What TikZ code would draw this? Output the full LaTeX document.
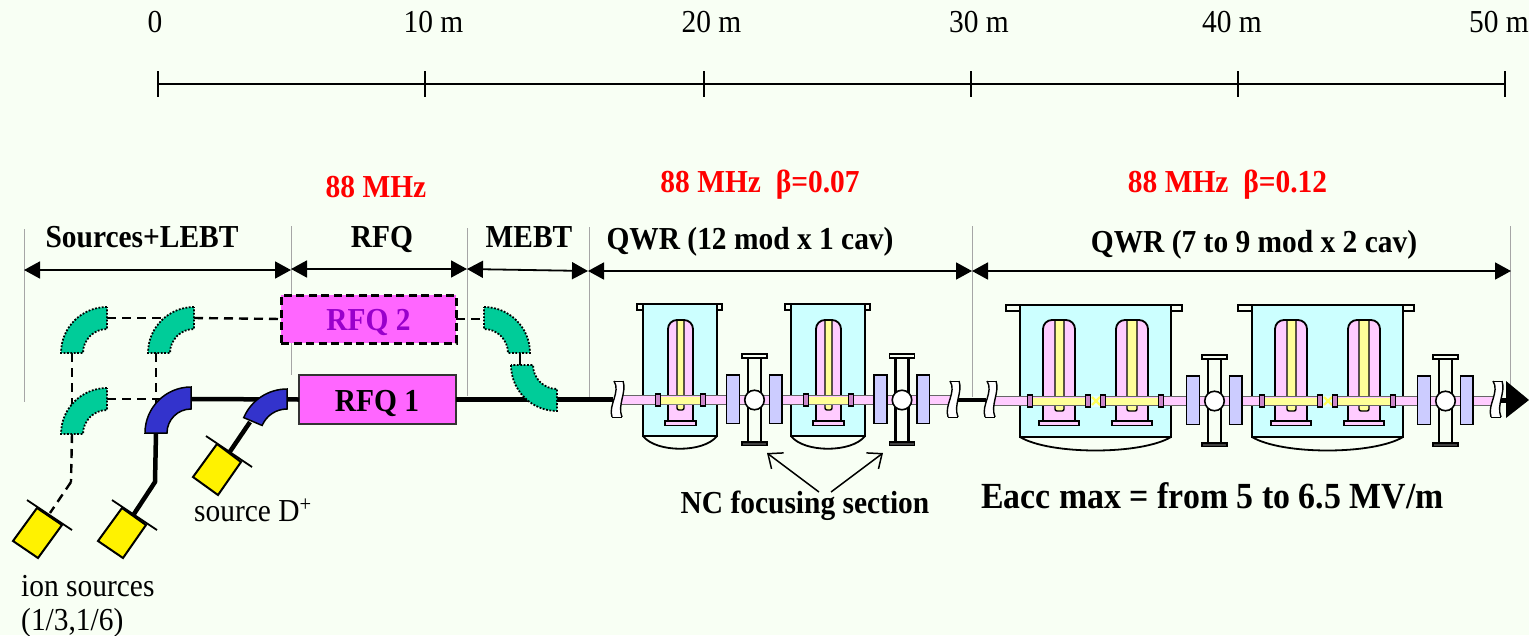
\documentclass[tikz,border=0pt]{standalone}
\usepackage{fontspec}
\setmainfont[FakeStretch=0.92]{Liberation Serif}
\usetikzlibrary{arrows.meta,calc}
\definecolor{bgc}{HTML}{F8FFF4}
\definecolor{rfqc}{HTML}{FF66FF}
\definecolor{rfqtxt}{HTML}{9900CC}
\definecolor{greenb}{HTML}{00CC99}
\definecolor{blueb}{HTML}{3333CC}
\definecolor{tankc}{HTML}{CCFFFF}
\definecolor{pinkc}{HTML}{FFCCFF}
\definecolor{yelc}{HTML}{FFFF99}
\definecolor{quadc}{HTML}{CCCCFF}
\definecolor{collarc}{HTML}{CC88CC}
\tikzset{
  reg/.style={anchor=base,inner sep=0pt,font=\fontsize{32}{32}\selectfont},
  lab/.style={anchor=base,inner sep=0pt,font=\bfseries\fontsize{32}{32}\selectfont},
  redlab/.style={lab,text=red},
  guide/.style={draw=black!35,line width=0.5pt},
  scaleline/.style={draw=black,line width=2pt},
  dimarrow/.style={draw=black,line width=1.8pt,{Triangle[length=16pt,width=17pt]}-{Triangle[length=16pt,width=17pt]}},
  beam/.style={draw=black,line width=4.5pt},
  dashline/.style={draw=black,line width=2.4pt,dash pattern=on 9pt off 6pt},
  gbend/.style={fill=greenb,draw=black,line width=1.8pt,dash pattern=on 1.8pt off 1.6pt},
  bbend/.style={fill=blueb,draw=black,line width=1.5pt},
  srcbox/.style={fill=yellow,draw=black,line width=2pt},
  srcbar/.style={draw=black,line width=1.8pt},
  tank/.style={fill=tankc,draw=black,line width=2pt},
  pipe/.style={fill=pinkc,draw=black!60,line width=0.8pt},
  ncarrow/.style={draw=black,line width=1.5pt,-{Straight Barb[length=12pt,width=20pt,line width=1.5pt]}}
}
% annular bend: name, centre, a1, a2, R, r, style
\newcommand{\Bend}[7]{%
  \coordinate (#1-c) at (#2);
  \draw[#7] ($(#1-c)+(#3:#5)$) arc[start angle=#3,end angle=#4,radius=#5]
     -- ($(#1-c)+(#4:#6)$) arc[start angle=#4,end angle=#3,radius=#6] -- cycle;
}
\newcommand{\Cav}[6]{% left right yleft yright baseext ybottom
  \draw[pipe,draw=black,line width=1.8pt,rounded corners=9pt] (#1,422) -- (#1,320) -- (#2,320) -- (#2,422);
  \fill[pinkc] (#1+1,330) rectangle (#2-1,421);
  \draw[draw=black,line width=1.4pt,fill=yelc,rounded corners=2pt] (#3,321) -- (#3,#6) -- (#4,#6) -- (#4,321);
  \draw[fill=pinkc,draw=black,line width=1.5pt] (#1-#5,421) rectangle (#2+#5,425.5);
}
\newcommand{\Collar}[2]{\draw[fill=collarc,draw=black,line width=1.2pt] (#1-2.5,#2-6) rectangle (#1+2.5,#2+6);}
\newcommand{\TankOne}[1]{\begin{scope}[shift={(#1,0)}]
  \draw[draw=black,line width=1.8pt] (643,436) .. controls (656,453) and (704,453) .. (717,436);
  \draw[tank] (643,304) rectangle (717,436);
  \draw[fill=bgc,draw=black,line width=1.8pt] (637,304) rectangle (643,310);
  \draw[fill=bgc,draw=black,line width=1.8pt] (717,304) rectangle (722,310);
  \draw[draw=black,line width=2.6pt] (637,304) -- (722,304);
  \Cav{668}{693}{677}{684}{3}{410}
\end{scope}}
\newcommand{\BeamOne}[1]{\begin{scope}[shift={(#1,0)}]
  \fill[yelc] (660,396.5) rectangle (701,403.5);
  \draw[draw=pinkc,line width=1.2pt] (660,396.8) -- (701,396.8);
  \draw[draw=black!50,line width=0.6pt] (660,404.4) -- (701,404.4);
  \Collar{658}{400}\Collar{703}{400}
\end{scope}}
\newcommand{\TankTwo}[1]{\begin{scope}[shift={(#1,0)}]
  \draw[draw=black,line width=1.8pt] (1020,437) .. controls (1050,455) and (1141,455) .. (1171,437);
  \draw[tank] (1020,305) rectangle (1171,437);
  \draw[fill=bgc,draw=black,line width=1.8pt] (1006,305) rectangle (1020,311);
  \draw[fill=bgc,draw=black,line width=1.8pt] (1171,305) rectangle (1182,311);
  \draw[draw=black,line width=2.6pt] (1006,305) -- (1182,305);
  \Cav{1043}{1075}{1055}{1064}{4}{411}
  \Cav{1116}{1148}{1127}{1137}{4}{411}
\end{scope}}
\newcommand{\BeamTwo}[1]{\begin{scope}[shift={(#1,0)}]
  \fill[yelc] (1032,397.5) rectangle (1087,404.5);
  \fill[yelc] (1104,397.5) rectangle (1160,404.5);
  \draw[draw=black!60,line width=0.7pt] (1032,405.4) -- (1087,405.4) (1104,405.4) -- (1160,405.4) (1032,396.6) -- (1087,396.6) (1104,396.6) -- (1160,396.6);
  \fill[tankc!50!white] (1090,395.5) rectangle (1102,406.5);
  \draw[draw=yelc!60!yellow,line width=2.2pt] (1092,397) -- (1100,405) (1092,405) -- (1100,397);
  \Collar{1030}{401}\Collar{1088}{401}\Collar{1103}{401}\Collar{1161}{401}
\end{scope}}
\newcommand{\FocusVert}[2]{%
  \draw[fill=bgc,draw=black,line width=2.2pt] (#1-6.5,#2-43) rectangle (#1+6.5,#2+42);
  \draw[fill=bgc,draw=black,line width=1.8pt] (#1-12.5,#2-46) rectangle (#1+12.5,#2-42);
  \draw[fill=black!75,draw=black,line width=1.8pt] (#1-12.5,#2+42) rectangle (#1+12.5,#2+45.5);
}
\newcommand{\FocusTop}[3]{%
  \draw[fill=quadc,draw=black,line width=1.7pt] (#2-28,#3-25) rectangle (#2-15,#3+23.5);
  \draw[fill=quadc,draw=black,line width=1.7pt] (#2+15,#3-25) rectangle (#2+27.5,#3+23.5);
  \node[circle,fill=white,draw=black,line width=1.6pt,minimum size=19.5pt,inner sep=0pt] (#1) at (#2,#3) {};
}
\newcommand{\Brk}[1]{%
  \fill[white] (#1+3,381) .. controls (#1+10,392) and (#1-3,405) .. (#1+1,417) -- (#1+11,417) .. controls (#1+6,405) and (#1+16,392) .. (#1+12,381) -- cycle;
  \draw[draw=black,line width=1.4pt] (#1+3,381) .. controls (#1+10,392) and (#1-3,405) .. (#1+1,417);
  \draw[draw=black,line width=1.4pt] (#1+12,381) .. controls (#1+16,392) and (#1+6,405) .. (#1+11,417);
  \draw[draw=black,line width=0.8pt] (#1+3,381) -- (#1+12,381) (#1+1,417) -- (#1+11,417);
}
\newcommand{\Source}[6]{% four corners, bar a, bar b
  \draw[srcbox] (#1) -- (#2) -- (#3) -- (#4) -- cycle;
  \draw[srcbar] (#5) -- (#6);
}
\begin{document}
\begin{tikzpicture}[x=1pt,y=-1pt]
\useasboundingbox (0,0) rectangle (1529,635);
\fill[bgc] (0,0) rectangle (1529,635);

% guides
\draw[guide] (24,229) -- (24,402);
\draw[guide] (291,226) -- (291,375);
\draw[guide] (467,228) -- (467,396);
\draw[guide] (589,227) -- (589,397);
\draw[guide] (972,226) -- (972,397);
\draw[guide] (1510,226) -- (1510,386);

% scale
\coordinate (t0) at (158,84);\coordinate (t1) at (425,84);\coordinate (t2) at (704,84);
\coordinate (t3) at (971,84);\coordinate (t4) at (1238,84);\coordinate (t5) at (1505,84);
\draw[scaleline] (t0) -- (t5);
\foreach \t in {t0,t1,t2,t3,t4,t5}
  \draw[draw=black,line width=1.5pt] ($(\t)+(0,-13)$) -- ($(\t)+(0,13)$);
\node[reg] (s0) at (155,32) {0};
\node[reg] (s10) at (433.5,32) {10 m};
\node[reg] (s20) at (711.5,32) {20 m};
\node[reg] (s30) at (979,32) {30 m};
\node[reg] (s40) at (1232,32) {40 m};
\node[reg] (s50) at (1499,32) {50 m};

% section labels
\node[redlab] (f1) at (376,197) {88 MHz};
\node[redlab] (f2) at (760,192) {88 MHz\ \ β=0.07};
\node[redlab] (f3) at (1227.5,192) {88 MHz\ \ β=0.12};
\node[lab] (l1) at (142,247) {Sources+LEBT};
\node[lab] (l2) at (382,247) {RFQ};
\node[lab] (l3) at (529,247) {MEBT};
\node[lab] (l4) at (750,249) {QWR (12 mod x 1 cav)};
\node[lab] (l5) at (1254,252) {QWR (7 to 9 mod x 2 cav)};

% dimension arrows
\coordinate (d0) at (24,270);\coordinate (d1) at (291,270);
\coordinate (d1b) at (291,269);\coordinate (d2) at (467,269);
\coordinate (d2b) at (467,269);\coordinate (d3) at (588,271);
\coordinate (d3b) at (588,271);\coordinate (d4) at (972,271);
\coordinate (d4b) at (972,271);\coordinate (d5) at (1511,271);
\draw[dimarrow] (d0) -- (d1);
\draw[dimarrow] (d1b) -- (d2);
\draw[dimarrow] (d2b) -- (d3);
\draw[dimarrow] (d3b) -- (d4);
\draw[dimarrow] (d4b) -- (d5);

% RFQ boxes
\node[draw=black,line width=3pt,dash pattern=on 8pt off 4.5pt,fill=rfqc,minimum width=175pt,minimum height=48pt,inner sep=0pt,outer sep=0pt] (rfq2) at (368.5,319) {};
\node[draw=black!80,line width=1.6pt,fill=rfqc,minimum width=157pt,minimum height=49pt,inner sep=0pt,outer sep=0pt] (rfq1) at (377.5,399.5) {};
\node[lab,text=rfqtxt] (rfq2t) at (368.5,330) {RFQ 2};
\node[lab,text=black] (rfq1t) at (377,411) {RFQ 1};

% bend end points
\coordinate (g1-a) at (107,318);\coordinate (g1-b) at (72,353);
\coordinate (g2-a) at (194,318);\coordinate (g2-b) at (159,353);
\coordinate (g3-a) at (107,399);\coordinate (g3-b) at (72,434);
\coordinate (b1-a) at (191,399);\coordinate (b1-b) at (156,433);
\coordinate (b2-a) at (288,399);\coordinate (b2-b) at (250,422);
\coordinate (m1-a) at (484,319);\coordinate (m1-b) at (520,352);
\coordinate (m2-a) at (520,366);\coordinate (m2-b) at (556,399.5);
\coordinate (k3) at (71,482);\coordinate (k2) at (155,482);
\coordinate (s3x) at (50,513);\coordinate (s2x) at (132,517);\coordinate (s1x) at (229,453);
\coordinate (brk1) at (613,399.5);

% connectors
\draw[dashline] (g1-a) -- (g2-a);
\draw[dashline] (g2-a) -- (rfq2.west);
\draw[dashline] (g1-b) -- (g3-b);
\draw[dashline] (g3-a) -- (b1-a);
\draw[dashline] (b1-b |- g2-b) -- (b1-b);
\draw[dashline] (g3-b) -- (k3);
\draw[dashline] (k3) -- (s3x);
\draw[dashline] (rfq2.east) -- (m1-a);
\draw[draw=black,line width=2.4pt] (m1-b) -- (m2-a);
\draw[beam] (b1-a) -- (rfq1.west);
\draw[beam,line join=miter] (b1-b) -- (k2) -- (s2x);
\draw[beam] (b2-b) -- (s1x);
\draw[beam] (rfq1.east) -- (m2-b) -- (brk1);

% bends
\Bend{g1}{107,353}{270}{180}{46}{24}{gbend}
\Bend{g2}{194,353}{270}{180}{46}{24}{gbend}
\Bend{g3}{107,434}{270}{180}{46}{24}{gbend}
\Bend{b1}{191,433}{270}{180}{46}{24}{bbend}
\Bend{b2}{287,436}{270}{203}{47}{27}{bbend}
\Bend{m1}{484,353}{270}{360}{46}{24}{gbend}
\Bend{m2}{557,365}{180}{90}{46}{24}{gbend}

% sources
\Source{13,541}{38,558}{62,525}{37,508}{27,500}{72,530}
\Source{98,541}{123,558}{146,525}{122,508}{112,500}{157,530}
\Source{193,477}{218,495}{241,462}{217,444}{206,436}{252,467}
\node[reg] (srcd) at (253,521) {source D\textsuperscript{+}};
\node[reg,anchor=base west] (ions) at (21,596) {ion sources};
\node[reg,anchor=base west] (ionq) at (21,630) {(1/3,1/6)};

% cryomodules
\TankOne{0}\TankOne{148}
\TankTwo{0}\TankTwo{232}
\FocusVert{754.5}{400}\FocusVert{902}{400}
\FocusVert{1214.5}{401}\FocusVert{1445.5}{401}

% beam
\draw[beam] (958,400) -- (986,400);
\draw[beam] (1500,400.5) -- (1510,400.5);
\draw[pipe] (621,395.5) rectangle (950,404.5);
\draw[pipe] (993,396.5) rectangle (1494,405.5);
\BeamOne{0}\BeamOne{148}
\BeamTwo{0}\BeamTwo{232}
\FocusTop{fc1}{754.5}{400}\FocusTop{fc2}{902}{400}
\FocusTop{fc3}{1214.5}{401}\FocusTop{fc4}{1445.5}{401}

% breaks
\Brk{611}\Brk{947}\Brk{984}\Brk{1490}
\coordinate (a1) at (1506,381);\coordinate (a2) at (1529,400);\coordinate (a3) at (1506,418);
\fill[black] (a1) -- (a2) -- (a3) -- cycle;

% bottom labels and arrows
\node[lab] (nc) at (805,513) {NC focusing section};
\node[lab,font=\bfseries\fontsize{36.8}{36.8}\selectfont] (eacc) at (1212.5,508) {Eacc max = from 5 to 6.5 MV/m};
\coordinate (ncl) at (819,492);\coordinate (ncr) at (831,492);
\coordinate (tipl) at (767,453);\coordinate (tipr) at (883,453);
\draw[ncarrow] (ncl) -- (tipl);
\draw[ncarrow] (ncr) -- (tipr);
\end{tikzpicture}
\end{document}
